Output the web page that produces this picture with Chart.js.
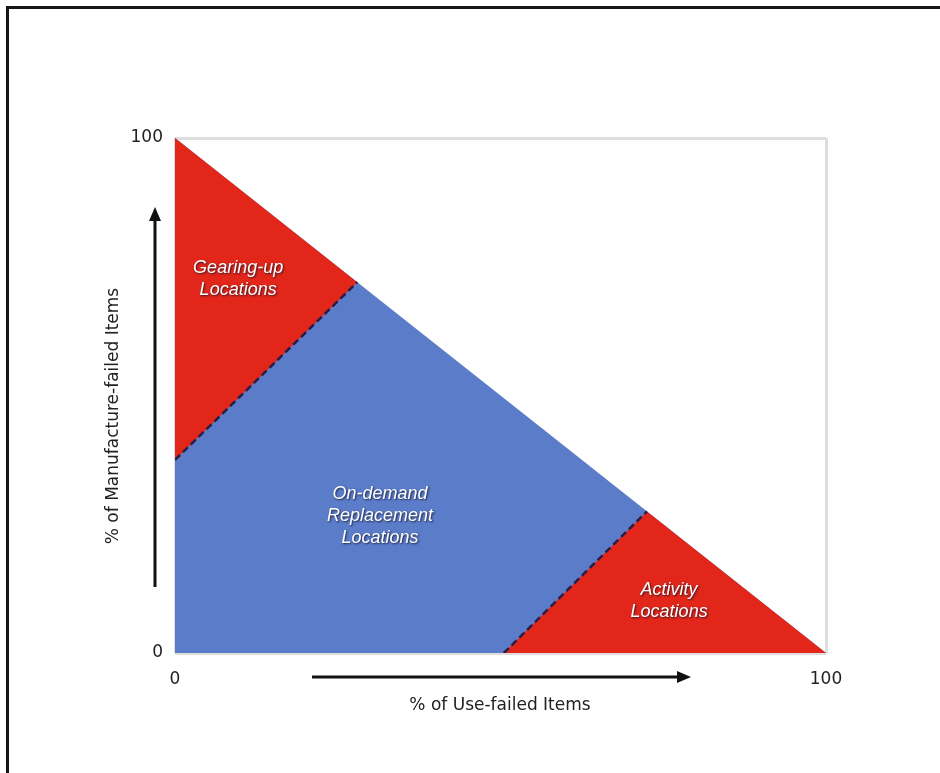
<!DOCTYPE html>
<html>
<head>
<meta charset="utf-8">
<script src="https://cdn.jsdelivr.net/npm/chart.js@4.4.1/dist/chart.umd.min.js"></script>
<style>
  html, body { margin: 0; padding: 0; background: #fff; }
  #wrap { position: relative; width: 940px; height: 773px; }
  #frame { position: absolute; left: 6px; top: 6px; right: 0; bottom: 0;
           border-top: 3px solid #161616; border-left: 3px solid #161616; pointer-events: none; }
</style>
</head>
<body>
<div id="wrap">
  <canvas id="triangle" width="940" height="773"></canvas>
  <div id="frame"></div>
</div>
<script>
// outer triangle (whole feasible region)
const outerX = [0, 100];
const outerY = [100, 0];

// gearing-up region (top left)
const gearingX = [0, 28, 0];
const gearingY = [100, 72, 37.5];

// activity region (bottom right)
const activityX = [50.5, 72.5, 100];
const activityY = [0, 27.5, 0];

// dashed dividers
const gearingLineX = [0, 28];
const gearingLineY = [37.5, 72];
const activityLineX = [50.5, 72.5];
const activityLineY = [0, 27.5];

const axisTicks = [0, 100];

const regionNames = [
  ["Gearing-up", "Locations"],
  ["On-demand", "Replacement", "Locations"],
  ["Activity", "Locations"]
];

function pts(xs, ys) {
  return xs.map((x, i) => ({ x: x, y: ys[i] }));
}

const RED = 'rgb(226,38,26)';
const BLUE = 'rgb(91,124,201)';
const DASH = 'rgb(40,30,70)';

// where the region names sit (data units)
const labelAnchors = [
  { x: 9.7, y: 74.8 },
  { x: 31.5, y: 30.9 },
  { x: 75.9, y: 12.2 }
];

const regionText = {
  id: 'regionText',
  afterDatasetsDraw(chart) {
    const ctx = chart.ctx;
    const xs = chart.scales.x, ys = chart.scales.y;
    ctx.save();
    ctx.font = 'italic 18px "Liberation Sans", Arial, sans-serif';
    ctx.textAlign = 'center';
    ctx.textBaseline = 'middle';
    ctx.fillStyle = '#fff';
    ctx.shadowColor = 'rgba(20,20,40,0.85)';
    ctx.shadowBlur = 2;
    ctx.shadowOffsetX = 1;
    ctx.shadowOffsetY = 1;
    regionNames.forEach((lines, i) => {
      const cx = xs.getPixelForValue(labelAnchors[i].x);
      const cy = ys.getPixelForValue(labelAnchors[i].y);
      lines.forEach((t, j) => ctx.fillText(t, cx, cy + j * 22));
    });
    ctx.restore();
  }
};

// axis titles and the two big arrows
const axisDecor = {
  id: 'axisDecor',
  afterDraw(chart) {
    const ctx = chart.ctx;
    ctx.save();
    ctx.strokeStyle = '#111';
    ctx.fillStyle = '#111';
    ctx.lineWidth = 3;
    // y arrow
    ctx.beginPath();
    ctx.moveTo(155, 587);
    ctx.lineTo(155, 218);
    ctx.stroke();
    ctx.beginPath();
    ctx.moveTo(155, 207);
    ctx.lineTo(149, 221);
    ctx.lineTo(161, 221);
    ctx.closePath();
    ctx.fill();
    // x arrow
    ctx.beginPath();
    ctx.moveTo(312, 677);
    ctx.lineTo(680, 677);
    ctx.stroke();
    ctx.beginPath();
    ctx.moveTo(691, 677);
    ctx.lineTo(677, 671);
    ctx.lineTo(677, 683);
    ctx.closePath();
    ctx.fill();

    ctx.font = '17px "DejaVu Sans", sans-serif';
    ctx.fillStyle = '#222';
    ctx.textAlign = 'center';
    ctx.textBaseline = 'middle';
    ctx.fillText('% of Use-failed Items', 500, 706);
    ctx.translate(114, 416);
    ctx.rotate(-Math.PI / 2);
    ctx.fillText('% of Manufacture-failed Items', 0, 0);
    ctx.restore();
  }
};

// higher order is drawn first, so the blue goes at the bottom
new Chart("triangle", {
  type: 'scatter',
  data: {
    datasets: [
      {
        data: pts(outerX, outerY),
        order: 5,
        showLine: true,
        borderWidth: 0,
        borderColor: BLUE,
        backgroundColor: BLUE,
        fill: 'origin',
        pointRadius: 0
      },
      {
        data: pts(gearingX, gearingY),
        order: 4,
        showLine: true,
        borderWidth: 0,
        borderColor: RED,
        backgroundColor: RED,
        fill: 'shape',
        pointRadius: 0
      },
      {
        data: pts(activityX, activityY),
        order: 3,
        showLine: true,
        borderWidth: 0,
        borderColor: RED,
        backgroundColor: RED,
        fill: 'origin',
        pointRadius: 0
      },
      {
        data: pts(gearingLineX, gearingLineY),
        order: 1,
        showLine: true,
        borderWidth: 2.5,
        borderDash: [7, 4],
        borderColor: DASH,
        fill: false,
        pointRadius: 0
      },
      {
        data: pts(activityLineX, activityLineY),
        order: 1,
        showLine: true,
        borderWidth: 2.5,
        borderDash: [7, 4],
        borderColor: DASH,
        fill: false,
        pointRadius: 0
      }
    ]
  },
  options: {
    responsive: false,
    animation: false,
    layout: { padding: { left: 0, top: 138, right: 114, bottom: 0 } },
    plugins: {
      legend: { display: false },
      tooltip: { enabled: false }
    },
    scales: {
      x: {
        type: 'linear',
        min: 0, max: 100,
        afterBuildTicks: (s) => { s.ticks = axisTicks.map(v => ({ value: v })); },
        afterFit: (s) => { s.height = 120; },
        grid: { color: '#dedede', lineWidth: 3, drawTicks: false },
        border: { display: false },
        ticks: { padding: 16, color: '#222', font: { size: 17, family: '"DejaVu Sans", sans-serif' }, maxRotation: 0, autoSkip: false }
      },
      y: {
        type: 'linear',
        min: 0, max: 100,
        afterBuildTicks: (s) => { s.ticks = axisTicks.map(v => ({ value: v })); },
        afterFit: (s) => { s.width = 175; },
        grid: { color: '#dedede', lineWidth: 3, drawTicks: false },
        border: { display: false },
        ticks: { padding: 12, color: '#222', font: { size: 17, family: '"DejaVu Sans", sans-serif' } }
      }
    }
  },
  plugins: [regionText, axisDecor]
});
</script>
</body>
</html>
